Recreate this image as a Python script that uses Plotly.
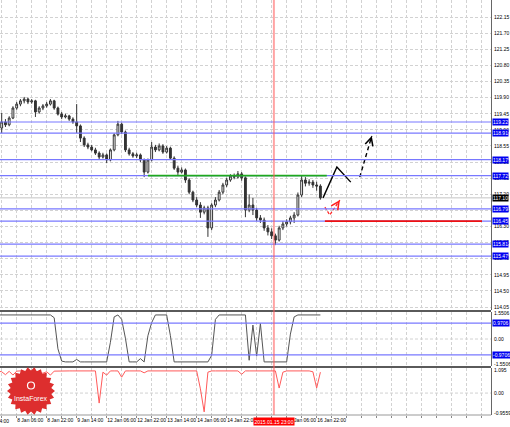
import math
import plotly.graph_objects as go

# ---------------- data ----------------
bar_open = [119.20, 119.05, 119.22, 119.14, 119.33, 119.61, 119.72, 119.81, 119.86, 119.78,
            119.81, 119.50, 119.61, 119.67, 119.72, 119.81, 119.61, 119.44, 119.36, 119.39,
            119.30, 119.22, 119.11, 118.77, 118.58, 118.52, 118.44, 118.35, 118.24, 118.30,
            118.16, 118.44, 118.86, 119.16, 118.94, 118.44, 118.33, 118.27, 118.30, 118.16,
            117.82, 118.16, 118.52, 118.44, 118.55, 118.38, 118.49, 118.21, 117.93, 117.82,
            117.88, 117.60, 117.26, 117.04, 116.90, 116.70, 116.82, 116.26, 116.90, 117.04,
            117.26, 117.46, 117.60, 117.71, 117.68, 117.77, 117.66, 116.76, 116.90, 116.76,
            116.54, 116.48, 116.26, 116.15, 116.04, 115.92, 116.26, 116.37, 116.43, 116.54,
            116.62, 117.18, 117.60, 117.51, 117.54, 117.46, 117.43]
bar_high = [119.33, 119.47, 119.30, 119.38, 119.66, 119.78, 119.86, 119.92, 119.90, 119.86,
            119.84, 119.66, 119.72, 119.78, 119.86, 119.84, 119.65, 119.50, 119.45, 119.42,
            119.35, 119.72, 119.15, 118.82, 118.64, 118.58, 118.50, 118.40, 118.36, 118.34,
            118.48, 118.90, 119.25, 119.20, 118.98, 118.50, 118.38, 118.36, 118.34, 118.20,
            118.20, 118.66, 118.58, 118.62, 118.60, 118.55, 118.53, 118.26, 118.00, 117.95,
            117.92, 117.65, 117.30, 117.12, 116.98, 116.88, 116.88, 116.95, 117.12, 117.32,
            117.52, 117.66, 117.76, 117.78, 117.85, 117.82, 117.70, 117.20, 117.10, 116.82,
            116.62, 116.55, 116.34, 116.25, 116.10, 116.32, 116.45, 116.50, 116.60, 116.70,
            117.25, 117.72, 117.68, 117.62, 117.60, 117.55, 117.48]
bar_low = [118.98, 118.91, 119.08, 119.10, 119.30, 119.56, 119.66, 119.74, 119.72, 119.73,
           119.36, 119.45, 119.55, 119.62, 119.68, 119.56, 119.40, 119.30, 119.32, 119.25,
           119.17, 118.91, 118.66, 118.52, 118.46, 118.40, 118.30, 118.18, 118.20, 118.07,
           118.12, 118.40, 118.82, 118.88, 118.38, 118.28, 118.22, 118.21, 118.10, 117.68,
           117.78, 118.12, 118.38, 118.40, 118.33, 118.34, 118.16, 117.88, 117.74, 117.78,
           117.52, 117.20, 116.98, 116.84, 116.54, 116.64, 116.01, 116.20, 116.84, 117.00,
           117.20, 117.40, 117.55, 117.62, 117.64, 117.58, 116.56, 116.70, 116.62, 116.45,
           116.40, 116.18, 116.05, 115.95, 115.78, 115.88, 116.20, 116.30, 116.36, 116.40,
           116.58, 117.12, 117.42, 117.44, 117.38, 117.30, 117.05]
bar_close = [119.05, 119.22, 119.14, 119.33, 119.61, 119.72, 119.81, 119.86, 119.78, 119.81,
             119.50, 119.61, 119.67, 119.72, 119.81, 119.61, 119.44, 119.36, 119.39, 119.30,
             119.22, 119.11, 118.77, 118.58, 118.52, 118.44, 118.35, 118.24, 118.30, 118.16,
             118.44, 118.86, 119.16, 118.94, 118.44, 118.33, 118.27, 118.30, 118.16, 117.82,
             118.16, 118.52, 118.44, 118.55, 118.38, 118.49, 118.21, 117.93, 117.82, 117.88,
             117.60, 117.26, 117.04, 116.90, 116.70, 116.82, 116.26, 116.90, 117.04, 117.26,
             117.46, 117.60, 117.71, 117.68, 117.77, 117.66, 116.76, 116.90, 116.76, 116.54,
             116.48, 116.26, 116.15, 116.04, 115.92, 116.26, 116.37, 116.43, 116.54, 116.62,
             117.18, 117.60, 117.51, 117.54, 117.46, 117.43, 117.10]

osc_values = [1.47, 1.47, 1.46, 1.47, 1.47, 1.47, 1.47, 1.46, 1.47, 1.47,
              1.47, 1.47, 1.46, 1.47, 1.47, 1.30, -0.60, -1.35, -1.40, -1.40,
              -1.40, -1.25, -1.40, -1.40, -1.40, -1.40, -1.40, -1.40, -1.40, -1.40,
              -0.20, 1.35, 1.47, 1.20, 0.05, -1.40, -1.40, -1.40, -1.20, -1.40,
              0.20, 1.00, 1.47, 1.47, 1.47, 1.47, 0.20, -1.40, -1.40, -1.40,
              -1.40, -1.40, -1.40, -1.40, -1.40, -1.40, -1.40, -1.00, 1.20, 1.47,
              1.47, 1.47, 1.47, 1.47, 1.47, 1.47, 1.47, -1.30, 0.85, -1.05,
              0.95, -1.40, -1.40, -1.40, -1.40, -1.40, -1.40, -1.40, 0.30, 1.35,
              1.47, 1.47, 1.47, 1.47, 1.47, 1.47, 1.47]

ind_values = [1.05, 1.02, 0.88, 1.04, 0.86, 1.05, 1.06, 1.05, 1.03, 0.90,
              1.05, 0.98, 0.95, 1.02, 0.86, 1.05, 1.06, 1.06, 1.06, 1.06,
              1.06, 1.06, 1.06, 1.06, 1.06, 1.06, 1.06, -0.48, 1.00, 0.86,
              1.06, 1.06, 1.06, 0.76, 1.06, 1.06, 1.06, 1.06, 1.06, 0.97,
              1.06, 1.06, 1.06, 1.06, 1.06, 1.06, 1.06, 1.06, 1.06, 1.06,
              1.06, 1.06, 1.06, 1.06, 0.20, -0.90, 1.00, 1.06, 1.06, 1.06,
              1.06, 1.06, 1.06, 1.06, 1.06, 0.90, 1.06, 1.06, 1.06, 1.06,
              1.06, 1.06, 1.06, 1.06, 1.06, 0.24, 1.00, 1.06, 1.06, 1.06,
              1.06, 1.06, 1.06, 1.06, 1.02, 0.24, 1.00]

time_labels = ["8 Jan 06:00", "8 Jan 22:00", "9 Jan 14:00", "12 Jan 06:00", "12 Jan 22:00",
               "13 Jan 14:00", "14 Jan 06:00", "14 Jan 22:00", "15 Jan 14:00", "16 Jan 06:00",
               "16 Jan 22:00"]
first_time_label = "7 Jan 14:00"
cursor_label = "2015.01.15 23:00"
cursor_bar = 73.6

level_prices = [119.22, 118.91, 118.17, 117.72, 116.79, 116.45, 115.81, 115.47]
bid_price = 117.10
green_level = 117.72
red_level = 116.45
price_tick_start = 114.05
price_tick_step = 0.45

osc_levels = [0.9706, -0.9706]
osc_scale = [1.5506, 0.0, -1.5506]
ind_scale = [1.095, 0.0, -0.9559]

# hand-drawn forecast arrows (bar index, price)
fc_solid_x = [86.7, 90.4, 94.1]
fc_solid_y = [117.10, 117.96, 117.54]
fc_dash_x = [96.5, 99.7]
fc_dash_y = [117.68, 118.83]
fc_red_x = [87.2, 88.5, 91.2]
fc_red_y = [116.84, 116.62, 117.04]

# ---------------- layout geometry ----------------
W, H = 510, 427
MR, MB = 19, 12
PW, PH = W - MR, H - MB
XR = [0.55, 131.5]
Y_MAIN = [113.967, 122.628]
Y_OSC = [-1.65, 1.65]
Y_IND = [-1.05, 1.20]


def ydom(top_px, bot_px):
    return [(PH - bot_px) / PH, (PH - top_px) / PH]


def ppx(px):
    return px / PW


def ppy(py):
    return (PH - py) / PH


bars = list(range(len(bar_close)))
GRID = "#d2d2d2"
GRID_DASH = "3px,2px"
BLUE_LINE = "#7878ff"
BLUE_BOX = "#0000f0"
FONT = "Liberation Sans"
FS = 5

fig = go.Figure()

fig.add_trace(go.Candlestick(
    x=bars, open=bar_open, high=bar_high, low=bar_low, close=bar_close,
    xaxis="x", yaxis="y", whiskerwidth=0,
    increasing=dict(line=dict(color="#333333", width=1), fillcolor="#ffffff"),
    decreasing=dict(line=dict(color="#333333", width=1), fillcolor="#333333"),
    hoverinfo="skip"))

fig.add_trace(go.Scatter(x=bars, y=osc_values, xaxis="x2", yaxis="y2", mode="lines",
                         line=dict(color="#555555", width=1), hoverinfo="skip"))
fig.add_trace(go.Scatter(x=bars, y=ind_values, xaxis="x3", yaxis="y3", mode="lines",
                         line=dict(color="#ff5a5a", width=1), hoverinfo="skip"))

fig.add_trace(go.Scatter(x=fc_solid_x, y=fc_solid_y, mode="lines", xaxis="x", yaxis="y",
                         line=dict(color="#000000", width=1.4), hoverinfo="skip"))
fig.add_trace(go.Scatter(x=fc_dash_x, y=fc_dash_y, mode="lines", xaxis="x", yaxis="y",
                         line=dict(color="#000000", width=1.4, dash="4px,3px"), hoverinfo="skip"))
fig.add_trace(go.Scatter(x=fc_red_x, y=fc_red_y, mode="lines", xaxis="x", yaxis="y",
                         line=dict(color="#ff2020", width=1.2, dash="3px,2px"), hoverinfo="skip"))

shapes = []
for lv in level_prices:
    shapes.append(dict(type="line", xref="paper", x0=0, x1=1, yref="y", y0=lv, y1=lv,
                       line=dict(color=BLUE_LINE, width=1.2)))
shapes.append(dict(type="line", xref="paper", x0=0, x1=1, yref="y", y0=bid_price, y1=bid_price,
                   line=dict(color="#c4c4c4", width=1), layer="below"))
shapes.append(dict(type="line", xref="x", x0=40, x1=87.7, yref="y", y0=green_level, y1=green_level,
                   line=dict(color="#1ea81e", width=1.6)))
shapes.append(dict(type="line", xref="x", x0=87.2, x1=129.1, yref="y", y0=red_level, y1=red_level,
                   line=dict(color="#ee1111", width=1.6)))
for lv in osc_levels:
    shapes.append(dict(type="line", xref="paper", x0=0, x1=1, yref="y2", y0=lv, y1=lv,
                       line=dict(color=BLUE_LINE, width=1.2)))
shapes.append(dict(type="line", xref="paper", x0=0, x1=1, yref="y2", y0=0, y1=0,
                   line=dict(color=GRID, width=1, dash=GRID_DASH), layer="below"))
shapes.append(dict(type="line", xref="paper", x0=0, x1=1, yref="y3", y0=0, y1=0,
                   line=dict(color=GRID, width=1, dash=GRID_DASH), layer="below"))
# panel separators
for sep in (311, 367):
    shapes.append(dict(type="line", xref="paper", x0=0, x1=1, yref="paper", y0=ppy(sep), y1=ppy(sep),
                       line=dict(color="#5a5a5a", width=2)))
shapes.append(dict(type="line", xref="paper", x0=0, x1=1, yref="paper", y0=0, y1=0,
                   line=dict(color="#999999", width=1)))
# cursor line
shapes.append(dict(type="line", xref="x", x0=cursor_bar, x1=cursor_bar, yref="paper", y0=0, y1=1,
                   line=dict(color="rgba(255,90,90,0.55)", width=2)))

# InstaForex badge
cx, cy = 31, 391
pts = []
n = 22
for k in range(2 * n):
    ang = math.pi * k / n
    r = 24 if k % 2 == 0 else 20.5
    pts.append(f"{ppx(cx + r * math.cos(ang)):.5f},{ppy(cy + r * math.sin(ang)):.5f}")
shapes.append(dict(type="path", xref="paper", yref="paper", path="M " + " L ".join(pts) + " Z",
                   fillcolor="#dd2e2e", line=dict(width=0)))
shapes.append(dict(type="circle", xref="paper", yref="paper",
                   x0=ppx(cx - 3.5), x1=ppx(cx + 3.5), y0=ppy(cy - 2), y1=ppy(cy - 9),
                   line=dict(color="white", width=1.2)))

annotations = []
for lv in level_prices:
    annotations.append(dict(x=1, xref="paper", y=lv, yref="y", xanchor="left", yanchor="middle",
                            xshift=1, text=f"{lv:.2f}", showarrow=False, bgcolor=BLUE_BOX,
                            borderpad=0, font=dict(color="white", size=FS, family=FONT)))
annotations.append(dict(x=1, xref="paper", y=bid_price, yref="y", xanchor="left", yanchor="middle",
                        xshift=1, text=f"{bid_price:.2f}", showarrow=False, bgcolor="#000000",
                        borderpad=0, font=dict(color="white", size=FS, family=FONT)))
for lv in osc_levels:
    annotations.append(dict(x=1, xref="paper", y=lv, yref="y2", xanchor="left", yanchor="middle",
                            xshift=1, text=f"{lv:.4f}", showarrow=False, bgcolor=BLUE_BOX,
                            borderpad=0, font=dict(color="white", size=FS, family=FONT)))

# arrowheads for the hand-drawn forecast
sx = PW / (XR[1] - XR[0])
sy = 310 / (Y_MAIN[1] - Y_MAIN[0])
for xs, ys, col in ((fc_solid_x, fc_solid_y, "#000000"), (fc_dash_x, fc_dash_y, "#000000"),
                    (fc_red_x, fc_red_y, "#ff2020")):
    dx = (xs[-1] - xs[-2]) * sx
    dy = -(ys[-1] - ys[-2]) * sy
    L = math.hypot(dx, dy)
    annotations.append(dict(x=xs[-1], y=ys[-1], xref="x", yref="y", text="", showarrow=True,
                            ax=-dx / L * 5, ay=-dy / L * 5, arrowhead=5, arrowsize=1.3,
                            arrowwidth=1.2, arrowcolor=col))

annotations.append(dict(x=ppx(cx), y=ppy(398), xref="paper", yref="paper", text="InstaForex",
                        xanchor="center", yanchor="middle", showarrow=False,
                        font=dict(color="white", size=7, family="Liberation Sans")))
annotations.append(dict(x=cursor_bar, xref="x3", y=-6.5 / PH, yref="paper", text=cursor_label,
                        showarrow=False, bgcolor="#ff0000", borderpad=0.5, xanchor="center",
                        yanchor="middle", font=dict(color="white", size=FS, family=FONT)))
annotations.append(dict(x=ppx(11), xref="paper", y=-6.5 / PH, yref="paper", text=first_time_label,
                        showarrow=False, xanchor="right", yanchor="middle",
                        font=dict(color="black", size=FS, family=FONT)))

grid_vals = [1 + 4 * m for m in range(33)]
grid_text = []
for m in range(33):
    idx = (m - 1) // 2
    grid_text.append(time_labels[idx] if (m % 2 == 1 and idx < len(time_labels)) else "")

xcommon = dict(range=XR, tickvals=grid_vals, showgrid=True, gridcolor=GRID, griddash=GRID_DASH,
               gridwidth=1, zeroline=False, showline=False, domain=[0, 1], automargin=False)
ycommon = dict(side="right", showline=True, linecolor="#666666", linewidth=1, zeroline=False,
               ticks="", ticklabelstandoff=1, automargin=False,
               tickfont=dict(size=FS, color="#000000", family=FONT))

fig.update_layout(
    width=W, height=H, margin=dict(l=0, r=MR, t=0, b=MB, pad=0, autoexpand=False),
    showlegend=False,
    paper_bgcolor="white", plot_bgcolor="white", font=dict(family=FONT),
    xaxis=dict(**xcommon, anchor="y", showticklabels=False, rangeslider=dict(visible=False)),
    xaxis2=dict(**xcommon, anchor="y2", matches="x", showticklabels=False),
    xaxis3=dict(**xcommon, anchor="y3", matches="x", ticktext=grid_text, ticks="outside",
                ticklen=2, tickcolor="#888888", ticklabelposition="outside right", tickangle=0,
                tickfont=dict(size=FS, color="#000000", family=FONT)),
    yaxis=dict(**ycommon, domain=ydom(0, 310), range=Y_MAIN, anchor="x",
               tick0=price_tick_start, dtick=price_tick_step, tickformat=".2f",
               showgrid=True, gridcolor=GRID, griddash=GRID_DASH, gridwidth=1),
    yaxis2=dict(**ycommon, domain=ydom(312, 366), range=Y_OSC, anchor="x2",
                tickvals=osc_scale, ticktext=["1.5506", "0.00", "-1.5506"], showgrid=False),
    yaxis3=dict(**ycommon, domain=ydom(368, 415), range=Y_IND, anchor="x3",
                tickvals=ind_scale, ticktext=["1.095", "0.00", "-0.9559"], showgrid=False),
    shapes=shapes, annotations=annotations,
)

fig.write_html("out.html", config={"displayModeBar": False},
               post_script="document.body.style.margin='0';document.body.style.padding='0';"
                           "document.body.style.overflow='hidden';")
